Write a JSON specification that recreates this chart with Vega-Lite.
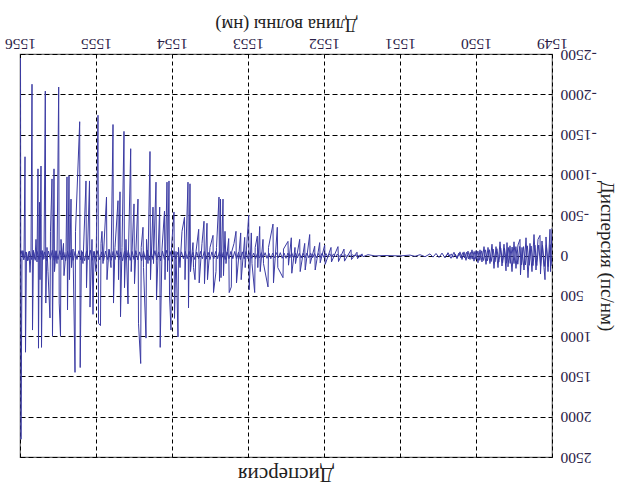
{
  "$schema": "https://vega.github.io/schema/vega-lite/v6.json",
  "width": 532,
  "height": 403,
  "autosize": {"type": "none"},
  "padding": {"left": 20, "top": 54, "right": 71, "bottom": 32},
  "background": "white",
  "title": {"text": "Дисперсия", "orient": "bottom", "angle": 180, "font": "Liberation Serif", "fontSize": 21, "fontWeight": "normal", "color": "#222", "offset": 21},
  "config": {
    "view": {"stroke": "#666", "strokeWidth": 1.2},
    "axis": {"labelFont": "Liberation Serif", "titleFont": "Liberation Serif", "labelFontSize": 15.5, "titleFontSize": 18.5, "titleFontWeight": "normal", "labelColor": "#2b2248", "titleColor": "#222", "gridColor": "#000", "gridOpacity": 1, "gridWidth": 1, "ticks": false, "domain": false, "labelFlush": false}
  },
  "datasets": {
    "main": [
    {"wl": 1555.9934, "d": -2450}, {"wl": 1555.9868, "d": 2280}, {"wl": 1555.9737, "d": 40}, {"wl": 1555.9605, "d": -60},
    {"wl": 1555.9474, "d": 30}, {"wl": 1555.9342, "d": -1225}, {"wl": 1555.9276, "d": 1200}, {"wl": 1555.9145, "d": -40},
    {"wl": 1555.8947, "d": 60}, {"wl": 1555.8816, "d": -50}, {"wl": 1555.8684, "d": 210}, {"wl": 1555.8553, "d": -30},
    {"wl": 1555.8421, "d": -2125}, {"wl": 1555.8355, "d": 925}, {"wl": 1555.8224, "d": -50}, {"wl": 1555.8026, "d": 40},
    {"wl": 1555.7895, "d": -200}, {"wl": 1555.7763, "d": 80}, {"wl": 1555.7632, "d": -1075}, {"wl": 1555.7566, "d": 1150},
    {"wl": 1555.7434, "d": -660}, {"wl": 1555.7368, "d": 300}, {"wl": 1555.7237, "d": -1110}, {"wl": 1555.7171, "d": 1140},
    {"wl": 1555.7039, "d": -60}, {"wl": 1555.6842, "d": 40}, {"wl": 1555.6671, "d": -2040}, {"wl": 1555.6605, "d": 590},
    {"wl": 1555.6447, "d": -100}, {"wl": 1555.6316, "d": 200}, {"wl": 1555.6053, "d": 775}, {"wl": 1555.5987, "d": -300},
    {"wl": 1555.5789, "d": -950}, {"wl": 1555.5724, "d": 1000}, {"wl": 1555.5526, "d": -1075}, {"wl": 1555.5461, "d": 200},
    {"wl": 1555.5263, "d": -60}, {"wl": 1555.5132, "d": 100}, {"wl": 1555.4908, "d": -2090}, {"wl": 1555.4842, "d": 590},
    {"wl": 1555.4671, "d": 1000}, {"wl": 1555.4605, "d": -200}, {"wl": 1555.4474, "d": 50}, {"wl": 1555.4276, "d": -150},
    {"wl": 1555.4211, "d": 250}, {"wl": 1555.3947, "d": -50}, {"wl": 1555.3816, "d": -975}, {"wl": 1555.375, "d": 675},
    {"wl": 1555.3553, "d": -990}, {"wl": 1555.3487, "d": 300}, {"wl": 1555.3289, "d": -700}, {"wl": 1555.3224, "d": 150},
    {"wl": 1555.3026, "d": -80}, {"wl": 1555.2763, "d": 1450}, {"wl": 1555.2697, "d": -300}, {"wl": 1555.2145, "d": -1660},
    {"wl": 1555.2079, "d": 1390}, {"wl": 1555.1908, "d": -60}, {"wl": 1555.1711, "d": 100}, {"wl": 1555.1316, "d": -925},
    {"wl": 1555.125, "d": 400}, {"wl": 1555.0855, "d": -925}, {"wl": 1555.0789, "d": 640}, {"wl": 1555.0526, "d": -200},
    {"wl": 1555.0395, "d": 730}, {"wl": 1555.0263, "d": -50}, {"wl": 1555.0, "d": 200}, {"wl": 1554.9737, "d": -1740},
    {"wl": 1554.9671, "d": 840}, {"wl": 1554.9408, "d": 870}, {"wl": 1554.9342, "d": -150}, {"wl": 1554.9211, "d": -300},
    {"wl": 1554.9079, "d": 100}, {"wl": 1554.8618, "d": -725}, {"wl": 1554.8553, "d": 300}, {"wl": 1554.8289, "d": -80},
    {"wl": 1554.8026, "d": 150}, {"wl": 1554.7763, "d": -1625}, {"wl": 1554.7697, "d": 590}, {"wl": 1554.75, "d": -100},
    {"wl": 1554.7105, "d": -680}, {"wl": 1554.7039, "d": 300}, {"wl": 1554.6842, "d": -790}, {"wl": 1554.6776, "d": 760},
    {"wl": 1554.6579, "d": -100}, {"wl": 1554.6316, "d": -1540}, {"wl": 1554.625, "d": 400}, {"wl": 1554.6053, "d": -200},
    {"wl": 1554.5789, "d": 600}, {"wl": 1554.5724, "d": -50}, {"wl": 1554.5434, "d": -1325}, {"wl": 1554.5368, "d": 200},
    {"wl": 1554.5, "d": -640}, {"wl": 1554.4934, "d": 350}, {"wl": 1554.4737, "d": -80}, {"wl": 1554.4474, "d": -700},
    {"wl": 1554.4408, "d": 840}, {"wl": 1554.4118, "d": 1340}, {"wl": 1554.4053, "d": -100}, {"wl": 1554.3816, "d": -350},
    {"wl": 1554.375, "d": 150}, {"wl": 1554.3421, "d": 1025}, {"wl": 1554.3355, "d": -200}, {"wl": 1554.3158, "d": 100},
    {"wl": 1554.2895, "d": -1290}, {"wl": 1554.2829, "d": 300}, {"wl": 1554.25, "d": -600}, {"wl": 1554.2434, "d": 100},
    {"wl": 1554.2105, "d": -910}, {"wl": 1554.2039, "d": 550}, {"wl": 1554.1618, "d": -600}, {"wl": 1554.1553, "d": 1140},
    {"wl": 1554.1316, "d": -80}, {"wl": 1554.0987, "d": -550}, {"wl": 1554.0921, "d": 300}, {"wl": 1554.0658, "d": -910},
    {"wl": 1554.0592, "d": 200}, {"wl": 1554.0395, "d": -925}, {"wl": 1554.0329, "d": 500}, {"wl": 1554.0132, "d": 925},
    {"wl": 1554.0066, "d": -100}, {"wl": 1553.9737, "d": -540}, {"wl": 1553.9671, "d": 780}, {"wl": 1553.9474, "d": -50},
    {"wl": 1553.9211, "d": 1010}, {"wl": 1553.9145, "d": -100}, {"wl": 1553.8947, "d": 150}, {"wl": 1553.8684, "d": -300},
    {"wl": 1553.8355, "d": -475}, {"wl": 1553.8289, "d": 300}, {"wl": 1553.7895, "d": -910}, {"wl": 1553.7829, "d": 650},
    {"wl": 1553.7632, "d": -890}, {"wl": 1553.7566, "d": 200}, {"wl": 1553.7237, "d": -160}, {"wl": 1553.7171, "d": 150},
    {"wl": 1553.6974, "d": 300}, {"wl": 1553.6842, "d": -50}, {"wl": 1553.6487, "d": -325}, {"wl": 1553.6421, "d": 340},
    {"wl": 1553.6053, "d": -150}, {"wl": 1553.5789, "d": -425}, {"wl": 1553.5724, "d": 350}, {"wl": 1553.5395, "d": -400},
    {"wl": 1553.5329, "d": 300}, {"wl": 1553.5, "d": -100}, {"wl": 1553.4605, "d": -250}, {"wl": 1553.4539, "d": 460},
    {"wl": 1553.4211, "d": 200}, {"wl": 1553.4145, "d": -100}, {"wl": 1553.3816, "d": -725}, {"wl": 1553.375, "d": 320},
    {"wl": 1553.3618, "d": -700}, {"wl": 1553.3553, "d": 275}, {"wl": 1553.3289, "d": -700}, {"wl": 1553.3224, "d": 250},
    {"wl": 1553.3026, "d": -300}, {"wl": 1553.2895, "d": 100}, {"wl": 1553.2539, "d": -210}, {"wl": 1553.2474, "d": 460},
    {"wl": 1553.2197, "d": 390}, {"wl": 1553.2132, "d": -50}, {"wl": 1553.1842, "d": -150}, {"wl": 1553.1579, "d": -300},
    {"wl": 1553.1513, "d": 340}, {"wl": 1553.0961, "d": -280}, {"wl": 1553.0895, "d": 300}, {"wl": 1553.0434, "d": -225},
    {"wl": 1553.0368, "d": 150}, {"wl": 1552.9908, "d": -500}, {"wl": 1552.9842, "d": 425}, {"wl": 1552.9566, "d": -280},
    {"wl": 1552.9474, "d": 100}, {"wl": 1552.9118, "d": 460}, {"wl": 1552.9053, "d": -100}, {"wl": 1552.8776, "d": -240},
    {"wl": 1552.8711, "d": 150}, {"wl": 1552.8461, "d": -360}, {"wl": 1552.8395, "d": 200}, {"wl": 1552.8026, "d": -200},
    {"wl": 1552.7961, "d": 100}, {"wl": 1552.7368, "d": 390}, {"wl": 1552.7303, "d": -100}, {"wl": 1552.6711, "d": -390},
    {"wl": 1552.6645, "d": 340}, {"wl": 1552.6145, "d": -350}, {"wl": 1552.6079, "d": 150}, {"wl": 1552.5395, "d": 275},
    {"wl": 1552.5329, "d": -80}, {"wl": 1552.4737, "d": -175}, {"wl": 1552.4671, "d": 120}, {"wl": 1552.4303, "d": -220},
    {"wl": 1552.4237, "d": 220}, {"wl": 1552.3816, "d": -100}, {"wl": 1552.375, "d": 100}, {"wl": 1552.3197, "d": -200},
    {"wl": 1552.3132, "d": 200}, {"wl": 1552.2539, "d": -150}, {"wl": 1552.2474, "d": 180}, {"wl": 1552.1882, "d": -260},
    {"wl": 1552.1816, "d": 100}, {"wl": 1552.1224, "d": -115}, {"wl": 1552.1158, "d": 180}, {"wl": 1552.0566, "d": -160},
    {"wl": 1552.05, "d": 90}, {"wl": 1551.9908, "d": -130}, {"wl": 1551.9842, "d": 110}, {"wl": 1551.9079, "d": -100},
    {"wl": 1551.9013, "d": 80}, {"wl": 1551.8158, "d": -110}, {"wl": 1551.8092, "d": 75}, {"wl": 1551.7368, "d": -80},
    {"wl": 1551.7303, "d": 70}, {"wl": 1551.6447, "d": -70}, {"wl": 1551.6382, "d": 50}, {"wl": 1551.5658, "d": -40},
    {"wl": 1551.5592, "d": 40}, {"wl": 1551.5, "d": -20}, {"wl": 1551.4868, "d": 15}, {"wl": 1551.4211, "d": -10},
    {"wl": 1551.3289, "d": 5}, {"wl": 1551.1974, "d": 0}, {"wl": 1551.0, "d": 5}, {"wl": 1550.8684, "d": -5},
    {"wl": 1550.8026, "d": 10}, {"wl": 1550.7368, "d": -10}, {"wl": 1550.6711, "d": 15}, {"wl": 1550.6053, "d": -20},
    {"wl": 1550.5658, "d": 20}, {"wl": 1550.5263, "d": -25}, {"wl": 1550.4868, "d": 25}, {"wl": 1550.4474, "d": -30},
    {"wl": 1550.4079, "d": 30}, {"wl": 1550.3684, "d": -35}, {"wl": 1550.3289, "d": 35}, {"wl": 1550.2895, "d": -40},
    {"wl": 1550.25, "d": 40}, {"wl": 1550.2105, "d": -45}, {"wl": 1550.1842, "d": 50}, {"wl": 1550.1579, "d": -45},
    {"wl": 1550.1316, "d": 60}, {"wl": 1550.1053, "d": -55}, {"wl": 1550.0789, "d": 50}, {"wl": 1550.0526, "d": -70},
    {"wl": 1550.0263, "d": 70}, {"wl": 1550.0, "d": -60}, {"wl": 1549.9737, "d": 90}, {"wl": 1549.9474, "d": -70},
    {"wl": 1549.9211, "d": 80}, {"wl": 1549.8947, "d": -110}, {"wl": 1549.8684, "d": 110}, {"wl": 1549.8421, "d": -100},
    {"wl": 1549.8158, "d": 100}, {"wl": 1549.7895, "d": -140}, {"wl": 1549.7632, "d": 160}, {"wl": 1549.7368, "d": -110},
    {"wl": 1549.7105, "d": 150}, {"wl": 1549.6842, "d": -170}, {"wl": 1549.6579, "d": 130}, {"wl": 1549.6316, "d": -140},
    {"wl": 1549.6053, "d": 190}, {"wl": 1549.5921, "d": -160}, {"wl": 1549.5789, "d": 140}, {"wl": 1549.5526, "d": -120},
    {"wl": 1549.5263, "d": 200}, {"wl": 1549.5, "d": -170}, {"wl": 1549.4737, "d": 160}, {"wl": 1549.4474, "d": -130},
    {"wl": 1549.4211, "d": -200}, {"wl": 1549.4145, "d": 240}, {"wl": 1549.3947, "d": -100}, {"wl": 1549.3684, "d": 180},
    {"wl": 1549.3421, "d": -220}, {"wl": 1549.3158, "d": 275}, {"wl": 1549.2895, "d": -150}, {"wl": 1549.2632, "d": 200},
    {"wl": 1549.2368, "d": -260}, {"wl": 1549.2105, "d": 180}, {"wl": 1549.1842, "d": -200}, {"wl": 1549.1579, "d": -250},
    {"wl": 1549.1513, "d": 230}, {"wl": 1549.1316, "d": -180}, {"wl": 1549.1053, "d": 150}, {"wl": 1549.0921, "d": 300},
    {"wl": 1549.0789, "d": -230}, {"wl": 1549.0526, "d": 200}, {"wl": 1549.0263, "d": -325}, {"wl": 1549.0197, "d": 200},
    {"wl": 1549.0, "d": -340}
    ],
    "band": [
    {"wl": 1556.0, "d": 50}, {"wl": 1555.975, "d": -60}, {"wl": 1555.95, "d": 55}, {"wl": 1555.925, "d": -45}, {"wl": 1555.9, "d": 65},
    {"wl": 1555.875, "d": -55}, {"wl": 1555.85, "d": 50}, {"wl": 1555.825, "d": -65}, {"wl": 1555.8, "d": 60}, {"wl": 1555.775, "d": -50},
    {"wl": 1555.75, "d": 50}, {"wl": 1555.725, "d": -60}, {"wl": 1555.7, "d": 55}, {"wl": 1555.675, "d": -45}, {"wl": 1555.65, "d": 65},
    {"wl": 1555.625, "d": -55}, {"wl": 1555.6, "d": 50}, {"wl": 1555.575, "d": -65}, {"wl": 1555.55, "d": 60}, {"wl": 1555.525, "d": -50},
    {"wl": 1555.5, "d": 50}, {"wl": 1555.475, "d": -60}, {"wl": 1555.45, "d": 55}, {"wl": 1555.425, "d": -45}, {"wl": 1555.4, "d": 65},
    {"wl": 1555.375, "d": -55}, {"wl": 1555.35, "d": 50}, {"wl": 1555.325, "d": -65}, {"wl": 1555.3, "d": 60}, {"wl": 1555.275, "d": -50},
    {"wl": 1555.25, "d": 50}, {"wl": 1555.225, "d": -60}, {"wl": 1555.2, "d": 55}, {"wl": 1555.175, "d": -45}, {"wl": 1555.15, "d": 65},
    {"wl": 1555.125, "d": -55}, {"wl": 1555.1, "d": 50}, {"wl": 1555.075, "d": -65}, {"wl": 1555.05, "d": 60}, {"wl": 1555.025, "d": -50},
    {"wl": 1555.0, "d": 50}, {"wl": 1554.975, "d": -60}, {"wl": 1554.95, "d": 55}, {"wl": 1554.925, "d": -45}, {"wl": 1554.9, "d": 65},
    {"wl": 1554.875, "d": -55}, {"wl": 1554.85, "d": 50}, {"wl": 1554.825, "d": -65}, {"wl": 1554.8, "d": 60}, {"wl": 1554.775, "d": -50},
    {"wl": 1554.75, "d": 50}, {"wl": 1554.725, "d": -60}, {"wl": 1554.7, "d": 55}, {"wl": 1554.675, "d": -45}, {"wl": 1554.65, "d": 65},
    {"wl": 1554.625, "d": -55}, {"wl": 1554.6, "d": 50}, {"wl": 1554.575, "d": -65}, {"wl": 1554.55, "d": 60}, {"wl": 1554.525, "d": -50},
    {"wl": 1554.5, "d": 50}, {"wl": 1554.475, "d": -60}, {"wl": 1554.45, "d": 55}, {"wl": 1554.425, "d": -45}, {"wl": 1554.4, "d": 65},
    {"wl": 1554.375, "d": -55}, {"wl": 1554.35, "d": 50}, {"wl": 1554.325, "d": -65}, {"wl": 1554.3, "d": 60}, {"wl": 1554.275, "d": -50},
    {"wl": 1554.25, "d": 50}, {"wl": 1554.225, "d": -60}, {"wl": 1554.2, "d": 55}, {"wl": 1554.175, "d": -45}, {"wl": 1554.15, "d": 65},
    {"wl": 1554.125, "d": -55}, {"wl": 1554.1, "d": 50}, {"wl": 1554.075, "d": -65}, {"wl": 1554.05, "d": 60}, {"wl": 1554.025, "d": -50},
    {"wl": 1554.0, "d": 50},
    {"wl": 1553.975, "d": -50}, {"wl": 1553.95, "d": 45}, {"wl": 1553.925, "d": -40}, {"wl": 1553.9, "d": 50}, {"wl": 1553.875, "d": -45},
    {"wl": 1553.85, "d": 40}, {"wl": 1553.825, "d": -50}, {"wl": 1553.8, "d": 40}, {"wl": 1553.775, "d": -50}, {"wl": 1553.75, "d": 45},
    {"wl": 1553.725, "d": -40}, {"wl": 1553.7, "d": 50}, {"wl": 1553.675, "d": -45}, {"wl": 1553.65, "d": 40}, {"wl": 1553.625, "d": -50},
    {"wl": 1553.6, "d": 40}, {"wl": 1553.575, "d": -50}, {"wl": 1553.55, "d": 45}, {"wl": 1553.525, "d": -40}, {"wl": 1553.5, "d": 50},
    {"wl": 1553.475, "d": -45}, {"wl": 1553.45, "d": 40}, {"wl": 1553.425, "d": -50}, {"wl": 1553.4, "d": 40}, {"wl": 1553.375, "d": -50},
    {"wl": 1553.35, "d": 45}, {"wl": 1553.325, "d": -40}, {"wl": 1553.3, "d": 50}, {"wl": 1553.275, "d": -45}, {"wl": 1553.25, "d": 40},
    {"wl": 1553.225, "d": -50}, {"wl": 1553.2, "d": 40}, {"wl": 1553.175, "d": -50}, {"wl": 1553.15, "d": 45}, {"wl": 1553.125, "d": -40},
    {"wl": 1553.1, "d": 50}, {"wl": 1553.075, "d": -45}, {"wl": 1553.05, "d": 40}, {"wl": 1553.025, "d": -50}, {"wl": 1553.0, "d": 40},
    {"wl": 1552.975, "d": -35}, {"wl": 1552.95, "d": 35}, {"wl": 1552.925, "d": -30}, {"wl": 1552.9, "d": 40}, {"wl": 1552.875, "d": -30},
    {"wl": 1552.85, "d": 30}, {"wl": 1552.825, "d": -35}, {"wl": 1552.8, "d": 30}, {"wl": 1552.775, "d": -35}, {"wl": 1552.75, "d": 35},
    {"wl": 1552.725, "d": -30}, {"wl": 1552.7, "d": 40}, {"wl": 1552.675, "d": -30}, {"wl": 1552.65, "d": 30}, {"wl": 1552.625, "d": -35},
    {"wl": 1552.6, "d": 30}, {"wl": 1552.575, "d": -35}, {"wl": 1552.55, "d": 35}, {"wl": 1552.525, "d": -30}, {"wl": 1552.5, "d": 35},
    {"wl": 1552.475, "d": -30}, {"wl": 1552.45, "d": 30}, {"wl": 1552.425, "d": -35}, {"wl": 1552.4, "d": 30}, {"wl": 1552.375, "d": -30},
    {"wl": 1552.35, "d": 30}, {"wl": 1552.325, "d": -28}, {"wl": 1552.3, "d": 32}, {"wl": 1552.275, "d": -28}, {"wl": 1552.25, "d": 28},
    {"wl": 1552.225, "d": -30}, {"wl": 1552.2, "d": 28}, {"wl": 1552.175, "d": -28}, {"wl": 1552.15, "d": 28}, {"wl": 1552.125, "d": -25},
    {"wl": 1552.1, "d": 30}, {"wl": 1552.075, "d": -25}, {"wl": 1552.05, "d": 25}, {"wl": 1552.025, "d": -28}, {"wl": 1552.0, "d": 25},
    {"wl": 1551.975, "d": -25}, {"wl": 1551.95, "d": 22}, {"wl": 1551.925, "d": -22}, {"wl": 1551.9, "d": 20}, {"wl": 1551.875, "d": -20},
    {"wl": 1551.85, "d": 18}, {"wl": 1551.825, "d": -18}, {"wl": 1551.8, "d": 15}, {"wl": 1551.775, "d": -15}, {"wl": 1551.75, "d": 12},
    {"wl": 1551.725, "d": -12}, {"wl": 1551.7, "d": 10}, {"wl": 1551.675, "d": -10}, {"wl": 1551.65, "d": 8}, {"wl": 1551.625, "d": -8},
    {"wl": 1551.6, "d": 6}, {"wl": 1551.575, "d": -6}, {"wl": 1551.55, "d": 5}, {"wl": 1551.525, "d": -5}, {"wl": 1551.5, "d": 3}
    ],
    "band2": [
    {"wl": 1550.4, "d": 10}, {"wl": 1550.375, "d": -15}, {"wl": 1550.35, "d": 12}, {"wl": 1550.325, "d": -20}, {"wl": 1550.3, "d": 22},
    {"wl": 1550.275, "d": -18}, {"wl": 1550.25, "d": 25}, {"wl": 1550.225, "d": -30}, {"wl": 1550.2, "d": 28}, {"wl": 1550.175, "d": -35},
    {"wl": 1550.15, "d": 30}, {"wl": 1550.125, "d": -40}, {"wl": 1550.1, "d": 42}, {"wl": 1550.075, "d": -38}, {"wl": 1550.05, "d": 45},
    {"wl": 1550.025, "d": -50}, {"wl": 1550.0, "d": 48}, {"wl": 1549.975, "d": -55}, {"wl": 1549.95, "d": 60}, {"wl": 1549.925, "d": -58},
    {"wl": 1549.9, "d": 62}, {"wl": 1549.875, "d": -70}, {"wl": 1549.85, "d": 65}, {"wl": 1549.825, "d": -72}, {"wl": 1549.8, "d": 75},
    {"wl": 1549.775, "d": -80}, {"wl": 1549.75, "d": 78}, {"wl": 1549.725, "d": -85}, {"wl": 1549.7, "d": 82}, {"wl": 1549.675, "d": -90},
    {"wl": 1549.65, "d": 92}, {"wl": 1549.625, "d": -88}, {"wl": 1549.6, "d": 95}, {"wl": 1549.575, "d": -100}, {"wl": 1549.55, "d": 98},
    {"wl": 1549.525, "d": -105}, {"wl": 1549.5, "d": 100}, {"wl": 1549.475, "d": -110}, {"wl": 1549.45, "d": 108}, {"wl": 1549.425, "d": -112},
    {"wl": 1549.4, "d": 115}, {"wl": 1549.375, "d": -110}, {"wl": 1549.35, "d": 118}, {"wl": 1549.325, "d": -120}, {"wl": 1549.3, "d": 122},
    {"wl": 1549.275, "d": -118}, {"wl": 1549.25, "d": 125}, {"wl": 1549.225, "d": -128}, {"wl": 1549.2, "d": 125}, {"wl": 1549.175, "d": -130},
    {"wl": 1549.15, "d": 132}, {"wl": 1549.125, "d": -128}, {"wl": 1549.1, "d": 135}, {"wl": 1549.075, "d": -132}, {"wl": 1549.05, "d": 138},
    {"wl": 1549.025, "d": -135}, {"wl": 1549.0, "d": 130}
    ]
  },
  "encoding": {
    "x": {"field": "wl", "type": "quantitative",
      "scale": {"domain": [1549, 1556], "reverse": true, "nice": false, "zero": false},
      "axis": {"orient": "top", "values": [1549, 1550, 1551, 1552, 1553, 1554, 1555, 1556], "labelAngle": 180, "labelPadding": 4, "labelExpr": "'' + datum.value", "title": "Длина волны (нм)", "titleAngle": 180, "titlePadding": 20, "gridDash": [4, 3]}},
    "y": {"field": "d", "type": "quantitative",
      "scale": {"domain": [-2500, 2500], "reverse": true, "nice": false},
      "axis": {"orient": "right", "values": [-2500, -2000, -1500, -1000, -500, 0, 500, 1000, 1500, 2000, 2500], "labelAngle": 180, "labelPadding": 8, "labelExpr": "'' + datum.value", "title": "Дисперсия (пс/нм)", "titleAngle": 90, "titleFontSize": 19, "titlePadding": 0, "gridDash": [5, 3]}}
  },
  "layer": [
    {"data": {"name": "band"}, "mark": {"type": "line", "color": "#3b3ba3", "strokeWidth": 1, "clip": true}},
    {"data": {"name": "band2"}, "mark": {"type": "line", "color": "#3b3ba3", "strokeWidth": 1, "clip": true}},
    {"data": {"name": "main"}, "mark": {"type": "line", "color": "#3b3ba3", "strokeWidth": 1, "clip": true}}
  ]
}
